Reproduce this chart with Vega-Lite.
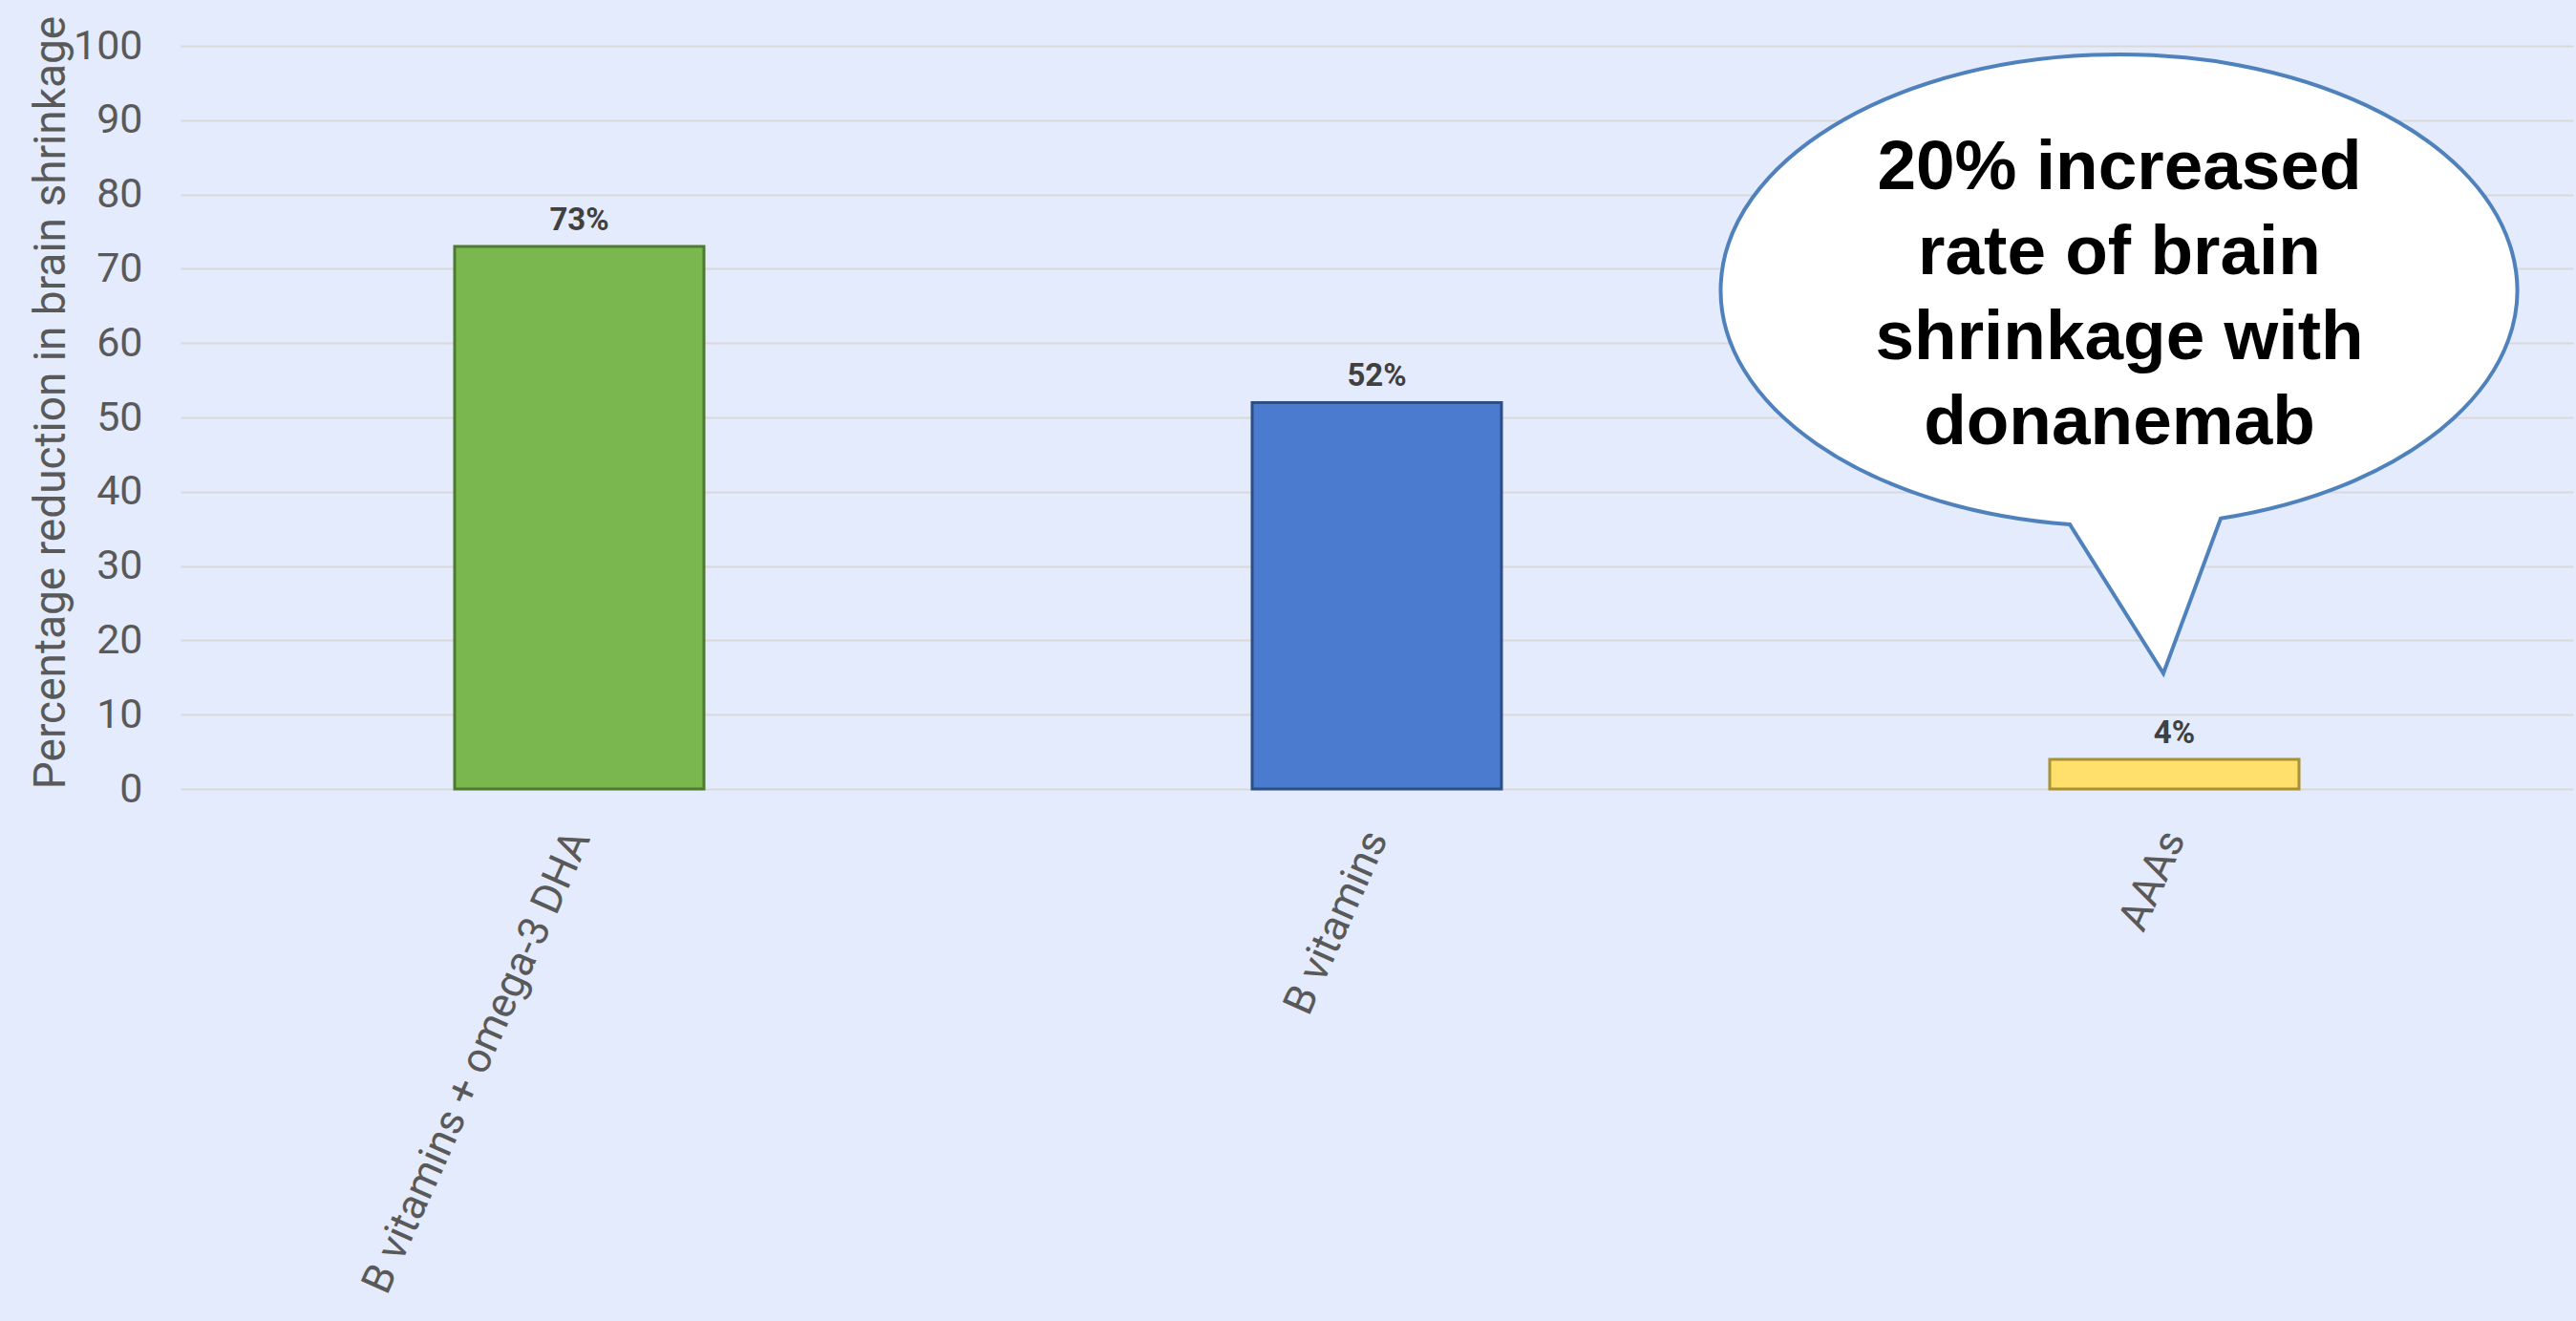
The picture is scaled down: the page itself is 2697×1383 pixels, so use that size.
{
  "$schema": "https://vega.github.io/schema/vega-lite/v6.json",
  "width": 2505,
  "height": 778,
  "autosize": {"type": "none"},
  "padding": {"left": 189, "top": 48, "right": 3, "bottom": 557},
  "background": "#e4ebfc",
  "config": {"view": {"stroke": null}, "font": "Roboto"},
  "datasets": {
    "bars": [
      {"treatment": "B vitamins + omega-3 DHA", "reduction": 73, "label": "73%"},
      {"treatment": "B vitamins", "reduction": 52, "label": "52%"},
      {"treatment": "AAAs", "reduction": 4, "label": "4%"}
    ],
    "bubble": [
      {"treatment": "AAAs", "reduction": 15.55}
    ],
    "note": [
      {"treatment": "AAAs", "reduction": 80.7, "text": "20% increased\nrate of brain\nshrinkage with\ndonanemab"}
    ]
  },
  "layer": [
    {
      "data": {"name": "bars"},
      "mark": {"type": "bar", "width": {"band": 0.3126}, "strokeWidth": 3},
      "encoding": {
        "x": {
          "field": "treatment", "type": "nominal", "sort": null,
          "scale": {"paddingInner": 0, "paddingOuter": 0},
          "axis": {
            "title": null, "labelAngle": -66, "labelFontSize": 44, "labelColor": "#595959",
            "labelPadding": 46, "ticks": false, "domain": false, "labelLimit": 1000, "grid": false
          }
        },
        "y": {
          "field": "reduction", "type": "quantitative",
          "scale": {"domain": [0, 100], "nice": false},
          "axis": {
            "title": "Percentage reduction in brain shrinkage",
            "values": [0, 10, 20, 30, 40, 50, 60, 70, 80, 90, 100],
            "titleFontSize": 46, "titleFontWeight": "normal", "titleColor": "#595959",
            "titleX": -136, "titleY": 373, "titleAngle": -90, "titleAlign": "center", "titleBaseline": "middle",
            "labelFontSize": 43, "labelColor": "#595959", "labelPadding": 40,
            "ticks": false, "domain": false, "gridColor": "#d9d9d9", "gridWidth": 2
          }
        },
        "color": {
          "field": "treatment", "type": "nominal", "legend": null,
          "scale": {"domain": ["B vitamins + omega-3 DHA", "B vitamins", "AAAs"], "range": ["#7ab84f", "#4a7bcf", "#ffe06c"]}
        },
        "stroke": {
          "field": "treatment", "type": "nominal", "legend": null,
          "scale": {"domain": ["B vitamins + omega-3 DHA", "B vitamins", "AAAs"], "range": ["#4e7b30", "#2c4e85", "#a89232"]}
        }
      }
    },
    {
      "data": {"name": "bars"},
      "mark": {"type": "text", "dy": -17, "baseline": "alphabetic", "fontSize": 33, "fontWeight": "bold", "color": "#404040"},
      "encoding": {
        "x": {"field": "treatment", "type": "nominal", "sort": null},
        "y": {"field": "reduction", "type": "quantitative"},
        "text": {"field": "label"}
      }
    },
    {
      "data": {"name": "bubble"},
      "mark": {
        "type": "point",
        "shape": "M -109.5 -156 A 417 247 0 1 1 48.5 -162.3 L -11.5 0 Z",
        "size": 4, "filled": true, "fill": "white", "fillOpacity": 1, "opacity": 1,
        "stroke": "#4f81bd", "strokeWidth": 4, "strokeOpacity": 1
      },
      "encoding": {
        "x": {"field": "treatment", "type": "nominal", "sort": null},
        "y": {"field": "reduction", "type": "quantitative"}
      }
    },
    {
      "data": {"name": "note"},
      "mark": {
        "type": "text", "font": "Liberation Sans", "fontSize": 73, "fontWeight": "bold", "color": "#000000",
        "align": "center", "baseline": "alphabetic", "dx": -57.5, "lineBreak": "\n", "lineHeight": 89
      },
      "encoding": {
        "x": {"field": "treatment", "type": "nominal", "sort": null},
        "y": {"field": "reduction", "type": "quantitative"},
        "text": {"field": "text"}
      }
    }
  ]
}
